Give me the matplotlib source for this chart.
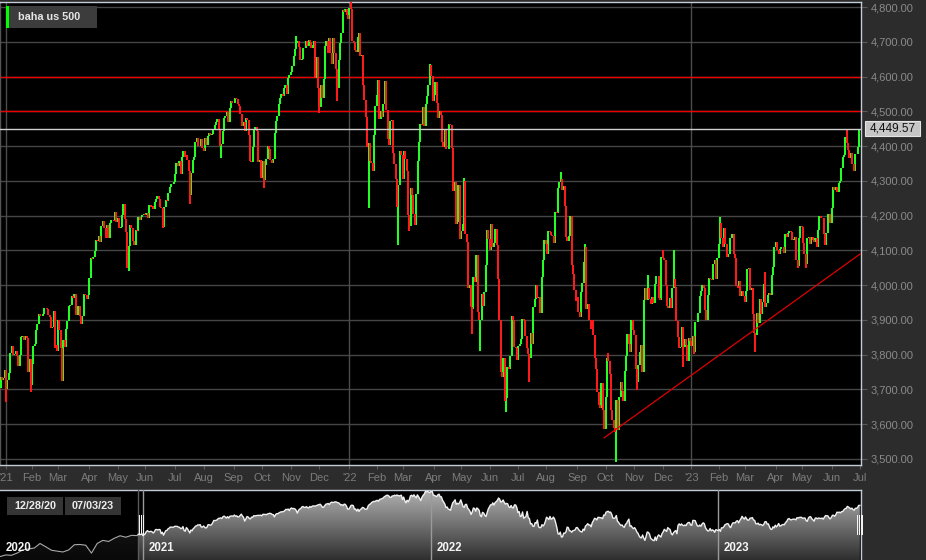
import numpy as np
import pandas as pd
import matplotlib
matplotlib.use("Agg")
import matplotlib.pyplot as plt
from matplotlib.patches import Rectangle, Polygon
from matplotlib.colors import LinearSegmentedColormap

plt.rcParams['font.family'] = ['Liberation Sans', 'DejaVu Sans']

# ---------------- data ----------------
title = "baha us 500"
start_label = "12/28/20"
end_label = "07/03/23"
last_price = 4449.57
alert_levels = [4600, 4500]
trend_dates = ["2022-09-30", "2023-07-03"]
trend_prices = [3561, 4090]
y_ticks = list(range(3500, 4801, 100))

holidays = ["2021-01-01", "2021-01-18", "2021-02-15", "2021-04-02", "2021-05-31",
            "2021-07-05", "2021-09-06", "2021-11-25", "2021-12-24",
            "2022-01-17", "2022-02-21", "2022-04-15", "2022-05-30", "2022-06-20",
            "2022-07-04", "2022-09-05", "2022-11-24", "2022-12-26",
            "2023-01-02", "2023-01-16", "2023-02-20", "2023-04-07", "2023-05-29",
            "2023-06-19"]

# weekly closes Jul-Dec 2020 (navigator history only)
nav_weekly_2020 = [3130, 3185, 3225, 3216, 3271, 3351, 3373, 3397, 3508, 3427, 3341, 3319, 3298,
                   3348, 3477, 3484, 3465, 3270, 3509, 3585, 3558, 3638, 3699, 3663, 3709, 3703]

close_2020 = [3735, 3727, 3732, 3756]

close_2021 = [
    3701, 3726, 3748, 3804, 3825, 3799, 3801, 3810, 3795, 3768, 3798, 3852, 3853, 3841, 3855, 3849, 3751, 3787, 3714,
    3774, 3826, 3830, 3872, 3887, 3916, 3911, 3910, 3916, 3934, 3933, 3931, 3914, 3907, 3876, 3881, 3925, 3829, 3811,
    3901, 3870, 3820, 3768, 3842, 3821, 3875, 3898, 3939, 3943, 3969, 3963, 3975, 3915, 3913, 3941, 3910, 3889, 3910, 3974, 3971, 3959, 3973,
    4020, 4078, 4074, 4080, 4097, 4129, 4128, 4141, 4125, 4170, 4185, 4163, 4135, 4173, 4135, 4180, 4187, 4187, 4184, 4211, 4181,
    4192, 4165, 4168, 4202, 4233, 4189, 4152, 4063, 4113, 4174, 4164, 4128, 4116, 4160, 4156, 4197, 4188, 4196, 4201, 4204,
    4202, 4208, 4192, 4230, 4226, 4227, 4219, 4239, 4247, 4255, 4247, 4224, 4222, 4166, 4224, 4246, 4242, 4266, 4281, 4291, 4291, 4298,
    4320, 4352, 4344, 4358, 4321, 4370, 4385, 4369, 4374, 4361, 4327, 4259, 4323, 4359, 4368, 4412, 4422, 4401, 4401, 4419, 4395,
    4387, 4423, 4403, 4429, 4437, 4433, 4436, 4448, 4460, 4468, 4479, 4449, 4400, 4406, 4442, 4480, 4486, 4497, 4470, 4509, 4529, 4523,
    4524, 4537, 4535, 4520, 4514, 4493, 4459, 4469, 4443, 4481, 4474, 4433, 4358, 4355, 4396, 4449, 4455, 4443, 4353, 4360, 4308,
    4357, 4301, 4346, 4364, 4400, 4391, 4361, 4351, 4364, 4438, 4471, 4486, 4520, 4537, 4550, 4545, 4567, 4575, 4551, 4597, 4605,
    4614, 4631, 4660, 4680, 4697, 4702, 4685, 4647, 4650, 4683, 4683, 4701, 4689, 4705, 4698, 4683, 4691, 4701, 4595, 4655, 4567,
    4513, 4577, 4538, 4592, 4687, 4701, 4668, 4712, 4669, 4635, 4710, 4669, 4621, 4568, 4649, 4697, 4726, 4791, 4786, 4793, 4778, 4766,
]

close_2022 = [
    4797, 4794, 4701, 4696, 4677, 4670, 4713, 4726, 4660, 4663, 4577, 4533, 4483, 4398, 4410, 4357, 4350, 4327, 4432, 4516,
    4546, 4589, 4477, 4501, 4484, 4522, 4587, 4504, 4419, 4402, 4472, 4475, 4380, 4349, 4305, 4226, 4288, 4385, 4374,
    4306, 4387, 4364, 4329, 4201, 4171, 4278, 4260, 4204, 4173, 4262, 4358, 4412, 4463, 4461, 4512, 4457, 4520, 4543, 4575, 4632, 4602, 4530,
    4546, 4583, 4525, 4481, 4500, 4488, 4413, 4397, 4447, 4392, 4391, 4463, 4460, 4394, 4272, 4297, 4175, 4183, 4288, 4132,
    4155, 4175, 4300, 4147, 4123, 3991, 4001, 3936, 3930, 4024, 4008, 4088, 3923, 3901, 3901, 3974, 3941, 3979, 4058, 4158, 4132,
    4101, 4176, 4109, 4121, 4161, 4116, 4018, 3901, 3750, 3735, 3790, 3667, 3675, 3765, 3760, 3796, 3912, 3901, 3822, 3819, 3785,
    3825, 3831, 3845, 3903, 3899, 3855, 3819, 3801, 3791, 3863, 3831, 3937, 3960, 3999, 3962, 3967, 3921, 4024, 4072, 4130,
    4119, 4091, 4155, 4152, 4145, 4140, 4122, 4210, 4208, 4280, 4297, 4305, 4275, 4284, 4228, 4138, 4128, 4141, 4199, 4058, 4031, 3986, 3955,
    3967, 3924, 3909, 3980, 4006, 4067, 4110, 3932, 3946, 3901, 3873, 3900, 3856, 3790, 3758, 3693, 3655, 3647, 3719, 3640, 3586,
    3678, 3791, 3783, 3745, 3640, 3612, 3589, 3577, 3670, 3583, 3677, 3720, 3695, 3666, 3752, 3797, 3859, 3830, 3807, 3901, 3872,
    3856, 3759, 3720, 3771, 3807, 3828, 3749, 3956, 3993, 3957, 3992, 3959, 3947, 3965, 3950, 4003, 4027, 4026, 3964, 3958, 4080,
    4077, 4072, 3999, 3941, 3933, 3964, 3934, 3991, 4019, 3996, 3896, 3852, 3818, 3821, 3879, 3822, 3845, 3829, 3783, 3849, 3840,
]

close_2023 = [
    3825, 3853, 3808, 3895, 3893, 3919, 3970, 3983, 3999, 3991, 3929, 3899, 3973, 4020, 4017, 4016, 4060, 4071, 4018, 4077,
    4119, 4180, 4136, 4111, 4164, 4118, 4082, 4090, 4137, 4136, 4148, 4090, 4079, 3997, 3991, 4012, 3970, 3982, 3970,
    3951, 3982, 4046, 4048, 3986, 3992, 3918, 3862, 3856, 3920, 3892, 3960, 3917, 3952, 4003, 3937, 3948, 3971, 3977, 3971, 4028, 4051, 4109,
    4125, 4101, 4091, 4105, 4110, 4109, 4092, 4146, 4138, 4151, 4155, 4154, 4130, 4133, 4138, 4072, 4056, 4136, 4169,
    4168, 4120, 4091, 4061, 4136, 4138, 4119, 4138, 4131, 4124, 4136, 4110, 4159, 4198, 4192, 4192, 4146, 4116, 4151, 4205, 4206, 4180,
    4221, 4282, 4273, 4283, 4268, 4294, 4299, 4338, 4369, 4373, 4426, 4410, 4389, 4366, 4381, 4348, 4328, 4378, 4376, 4396, 4450,
    4449.57,
]

# notable intraday extremes (long wicks visible on the chart)
wick_dates = ["2021-01-04", "2021-01-29", "2021-02-25", "2021-03-04", "2021-03-05", "2021-05-12",
              "2021-05-13", "2021-06-18", "2021-07-19", "2021-08-19", "2021-10-04", "2021-11-05",
              "2021-12-01", "2021-12-20", "2022-01-04", "2022-01-24", "2022-02-24", "2022-03-08",
              "2022-03-29", "2022-05-04", "2022-05-12", "2022-05-20", "2022-06-02", "2022-06-17",
              "2022-07-14", "2022-08-16", "2022-09-12", "2022-09-30", "2022-10-05", "2022-10-13",
              "2022-11-03", "2022-11-15", "2022-12-01", "2022-12-13", "2022-12-22", "2023-01-05",
              "2023-02-02", "2023-03-13", "2023-03-22", "2023-04-26", "2023-05-04", "2023-06-16",
              "2023-06-26"]
wick_values = [3663, 3694, 3818, 3723, 3724, 4050,
               4040, 4164, 4233, 4367, 4278, 4718,
               4495, 4531, 4818, 4222, 4115, 4157,
               4637, 4308, 3859, 3810, 4177, 3636,
               3722, 4325, 4119, 3585, 3806, 3491,
               3698, 4028, 4100, 4100, 3764, 3802,
               4195, 3809, 4039, 4049, 4048, 4448,
               4328]

# ---------------- derived ----------------
closes = np.array(close_2020 + close_2021 + close_2022 + close_2023, dtype=float)
dates = pd.bdate_range("2020-12-28", "2023-07-03").difference(pd.to_datetime(holidays))
n = min(len(dates), len(closes))
dates = dates[:n]
closes = closes[:n]
opens = np.r_[nav_weekly_2020[-1], closes[:-1]]
idx = np.arange(n)
lo = np.minimum(opens, closes)
hi = np.maximum(opens, closes)
for d, v in zip(wick_dates, wick_values):
    k = int(np.searchsorted(dates, pd.Timestamp(d)))
    if k < n:
        lo[k] = min(lo[k], v)
        hi[k] = max(hi[k], v)
up = closes >= opens

W, H = 926, 560
BG = '#2c2c2c'
fig = plt.figure(figsize=(W / 100, H / 100), dpi=100, facecolor=BG)

def fx(px):
    return px / W

def fy(py):
    return 1 - py / H

# ---------------- main chart ----------------
ax = fig.add_axes([0, fy(465), fx(861), (465 - 2) / H], facecolor='black')
ax.set_xlim(-0.5, n - 0.5)
ax.set_ylim(3482.7, 4814.4)

for v in y_ticks:
    ax.axhline(v, color='#464646', lw=1.0, zorder=1)

year_idx = [int(np.searchsorted(dates, pd.Timestamp(f"{y}-01-01"))) for y in (2021, 2022, 2023)]
for yi in year_idx:
    ax.axvline(yi, color='#4c4c4c', lw=1.0, zorder=1)

for lvl in alert_levels:
    ax.axhline(lvl, color='#ee0000', lw=1.0, zorder=2, snap=True)

ax.vlines(idx[up], lo[up], hi[up], colors='#22ff22', lw=1.45, zorder=3)
ax.vlines(idx[~up], lo[~up], hi[~up], colors='#ff1a1a', lw=1.45, zorder=3)

ax.axhline(last_price, color='#cfcfcf', lw=1.0, zorder=4, snap=True)

t_idx = [int(np.searchsorted(dates, pd.Timestamp(d))) for d in trend_dates]
ax.plot(t_idx, trend_prices, color='#e00000', lw=0.9, zorder=5)

ax.yaxis.tick_right()
ax.set_yticks(y_ticks)
ax.set_yticklabels([f"{v:,.2f}" for v in y_ticks])
ax.tick_params(axis='y', colors='#5a5a5a', labelcolor='#8a8a8a', labelsize=8, length=4, pad=3)

months = pd.period_range("2021-01", "2023-07", freq="M")
tpos, tlab = [], []
for m in months:
    tpos.append(int(np.searchsorted(dates, m.start_time)))
    tlab.append(f"'{m.year % 100:02d}" if m.month == 1 else m.strftime("%b"))
ax.set_xticks(tpos)
ax.set_xticklabels(tlab)
ax.tick_params(axis='x', colors='#5a5a5a', labelcolor='#7c7c7c', labelsize=8, length=3, pad=3)

for s in ax.spines.values():
    s.set_color('#c4ccd8')
    s.set_linewidth(1.0)
ax.spines['left'].set_color('#555555')

# price tag
ytag = ax.transData.transform((0, last_price))[1]
tag_h = 15
fig.patches.append(Rectangle((fx(865), (ytag - tag_h / 2) / H), fx(55), tag_h / H,
                             transform=fig.transFigure, facecolor='#c6c6c6', edgecolor='#e4e4e4', lw=0.8))
fig.text(fx(892.5), ytag / H, f"{last_price:,.2f}", ha='center', va='center', fontsize=8.5, color='#111111')

# legend box
fig.patches.append(Rectangle((fx(6), fy(28)), fx(91), 22 / H, transform=fig.transFigure,
                             facecolor='#3c3c3c', edgecolor='none', zorder=10))
fig.patches.append(Rectangle((fx(6), fy(28)), fx(3), 22 / H, transform=fig.transFigure,
                             facecolor='#00ff00', edgecolor='none', zorder=11))
fig.text(fx(18), fy(17.5), title, ha='left', va='center', fontsize=7.8, fontweight='bold',
         color='#e6e6e6', zorder=12)

# ---------------- navigator ----------------
nav = fig.add_axes([0, 0, fx(861), (560 - 490) / H], facecolor='black')
nxmin, nxmax = -121, 632
nymin, nymax = 3100, 4830
wk_x = -1 - 5 * np.arange(len(nav_weekly_2020))[::-1]
nav_x = np.r_[wk_x, idx]
nav_y = np.r_[nav_weekly_2020, closes]

grad = np.linspace(0, 1, 256).reshape(-1, 1)
cmap = LinearSegmentedColormap.from_list('g', ['#2e2e2e', '#b2b2b2'])
im = nav.imshow(grad, extent=[nxmin, nxmax, nymin, nymax], origin='lower', aspect='auto',
                cmap=cmap, zorder=1)
verts = np.column_stack([np.r_[nav_x, nav_x[-1], nav_x[0]], np.r_[nav_y, nymin, nymin]])
poly = Polygon(verts, closed=True, transform=nav.transData, facecolor='none', edgecolor='none')
nav.add_patch(poly)
im.set_clip_path(poly)

nav.add_patch(Rectangle((nxmin, nymin), (-0.5 - nxmin), nymax - nymin, facecolor='black',
                        alpha=0.82, edgecolor='none', zorder=2))
left = nav_x <= 0
nav.plot(nav_x[left], nav_y[left], color='#a8a8a8', lw=0.8, zorder=4)
nav.plot(nav_x[~left | (nav_x == 0)], nav_y[~left | (nav_x == 0)], color='#f0f0f0', lw=1.0, zorder=4)

nav.axvline(-0.5, color='#5a5a5a', lw=1.0, zorder=3)
for yi in year_idx:
    nav.axvline(yi, color='#9a9a9a', lw=1.0, zorder=3)

nav.set_xlim(nxmin, nxmax)
nav.set_ylim(nymin, nymax)
nav.set_xticks([])
nav.set_yticks([])
for s in nav.spines.values():
    s.set_color('#c4ccd8')
    s.set_linewidth(1.0)
nav.spines['left'].set_visible(False)
nav.spines['bottom'].set_visible(False)

# year labels in navigator
year_names = ["2020", "2021", "2022", "2023"]
year_pos = [nxmin] + year_idx
for name, xp in zip(year_names, year_pos):
    nav.annotate(name, xy=(xp, nymin), xytext=(4, 4), textcoords='offset points',
                 ha='left', va='bottom', fontsize=8.3, fontweight='bold', color='#f4f4f4', zorder=6)

# selection handles
def handle(xd):
    px = nav.transData.transform((xd, nymin))[0]
    for k in range(3):
        fig.patches.append(Rectangle((fx(px + 1 + 2.2 * k), fy(535)), fx(1.3), 20 / H,
                                     transform=fig.transFigure, facecolor='#f2f2f2',
                                     edgecolor='none', zorder=20))

handle(-0.5)
handle(n - 4.5)

# date boxes
for label, x0 in [(start_label, 7), (end_label, 65)]:
    fig.patches.append(Rectangle((fx(x0), fy(515)), fx(56), 18 / H, transform=fig.transFigure,
                                 facecolor='#353535', edgecolor='none', zorder=10))
    fig.text(fx(x0 + 28), fy(506), label, ha='center', va='center', fontsize=7.8,
             fontweight='bold', color='#ececec', zorder=12)

fig.savefig("out.png", dpi=100, facecolor=BG)
